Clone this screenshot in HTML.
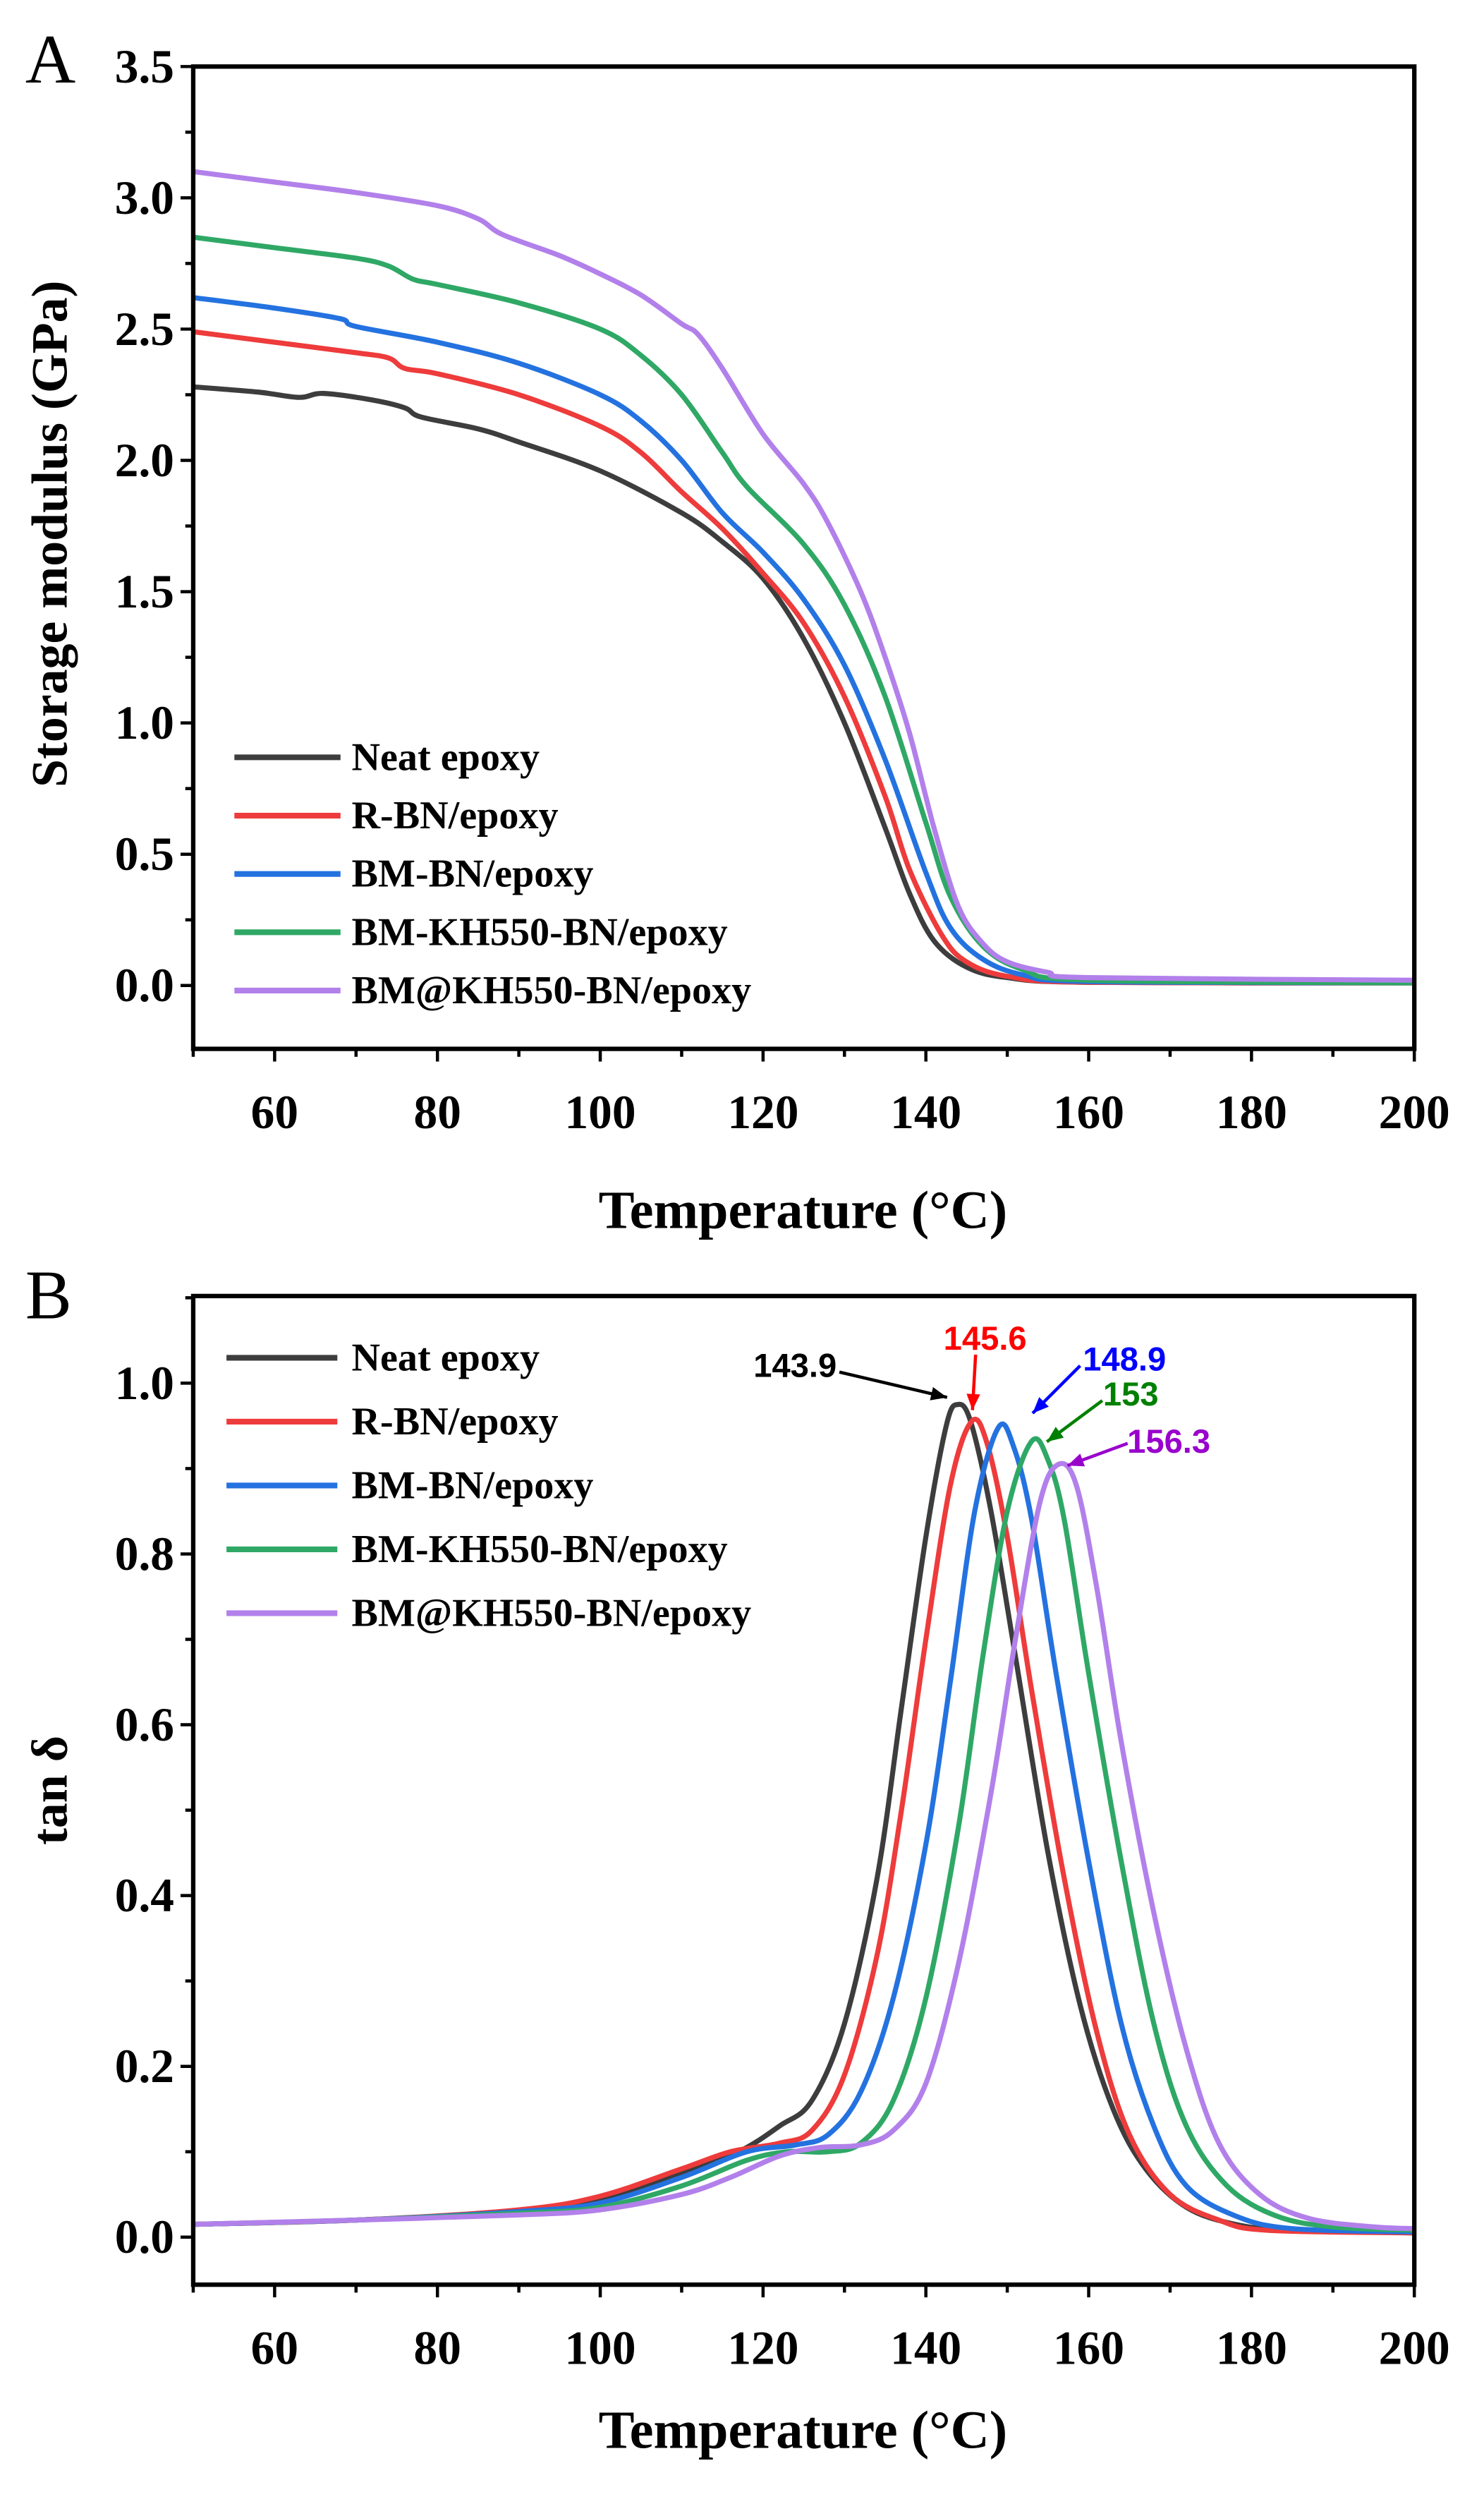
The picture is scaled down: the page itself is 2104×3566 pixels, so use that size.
<!DOCTYPE html>
<html><head><meta charset="utf-8"><style>
html,body{margin:0;padding:0;background:#fff}
svg{display:block}
text{font-family:"Liberation Serif",serif;font-weight:bold;fill:#000}
.ann{font-family:"Liberation Sans",sans-serif;font-weight:bold}
</style></head><body>
<svg id="s" width="2104" height="3566" viewBox="0 0 937 1588" preserveAspectRatio="none" xmlns="http://www.w3.org/2000/svg">
<rect width="937" height="1588" fill="#fff"/>
<g id="g"></g>
<text x="16" y="52" font-size="44" style="font-weight:normal">A</text>
<text x="16" y="832" font-size="44" style="font-weight:normal">B</text>
<text x="507" y="775" font-size="34" text-anchor="middle">Temperature (°C)</text>
<text x="507" y="1545" font-size="34" text-anchor="middle">Temperature (°C)</text>
<text transform="translate(42,337) rotate(-90)" font-size="32" text-anchor="middle">Storage modulus (GPa)</text>
<text transform="translate(42,1130) rotate(-90)" font-size="32" text-anchor="middle">tan δ</text>
</svg>
<script>
var NS="http://www.w3.org/2000/svg",g=document.getElementById("g");
function el(t,a,txt){var e=document.createElementNS(NS,t);for(var k in a)e.setAttribute(k,a[k]);if(txt!=null)e.textContent=txt;g.appendChild(e);return e;}
var L=122,R=893;
function X(T){return L+(T-50)*(R-L)/150;}
var A={top:42,bot:662,y0:622,per:(622-42)/3.5};
var B={top:818,bot:1442,y0:1412,per:(1412-873)/1.0};
function YA(v){return A.y0-v*A.per;} function YB(v){return B.y0-v*B.per;}
function path(pts,Y){var p=pts.map(function(q){return[X(q[0]),Y(q[1])];});
 var d="M"+p[0][0].toFixed(2)+","+p[0][1].toFixed(2);
 for(var i=0;i<p.length-1;i++){var p0=p[i-1]||p[i],p1=p[i],p2=p[i+1],p3=p[i+2]||p2;
  d+=" C"+(p1[0]+(p2[0]-p0[0])/6).toFixed(2)+","+(p1[1]+(p2[1]-p0[1])/6).toFixed(2)+" "+(p2[0]-(p3[0]-p1[0])/6).toFixed(2)+","+(p2[1]-(p3[1]-p1[1])/6).toFixed(2)+" "+p2[0].toFixed(2)+","+p2[1].toFixed(2);}
 return d;}
var C=["#3d3d3d","#ee3b3b","#2472e0","#2fa866","#b280ea"];
var names=["Neat epoxy","R-BN/epoxy","BM-BN/epoxy","BM-KH550-BN/epoxy","BM@KH550-BN/epoxy"];
var dA=[
[[50,2.28],[58,2.26],[63,2.24],[66,2.255],[72,2.23],[76,2.2],[78,2.165],[85,2.12],[90,2.07],[100,1.96],[110,1.8],[115,1.69],[120,1.55],[125,1.32],[130,1.0],[135,0.6],[138,0.35],[141,0.17],[145,0.07],[150,0.03],[160,0.012],[200,0.01]],
[[50,2.49],[60,2.45],[70,2.41],[74,2.39],[76,2.35],[80,2.33],[90,2.25],[100,2.13],[105,2.03],[110,1.88],[115,1.74],[120,1.57],[125,1.38],[130,1.1],[135,0.72],[138,0.44],[142,0.19],[145,0.09],[150,0.035],[160,0.012],[200,0.01]],
[[50,2.62],[60,2.58],[68,2.54],[70,2.51],[80,2.45],[90,2.37],[100,2.25],[105,2.15],[110,2.0],[115,1.8],[120,1.65],[125,1.47],[130,1.22],[135,0.86],[140,0.43],[143,0.22],[147,0.1],[152,0.04],[160,0.015],[200,0.01]],
[[50,2.85],[60,2.81],[70,2.77],[74,2.74],[77,2.69],[80,2.67],[90,2.6],[100,2.5],[105,2.4],[110,2.25],[115,2.03],[118,1.9],[125,1.68],[130,1.45],[135,1.1],[140,0.62],[143,0.34],[147,0.15],[152,0.06],[160,0.02],[200,0.01]],
[[50,3.1],[60,3.06],[70,3.02],[80,2.97],[85,2.92],[88,2.86],[95,2.78],[100,2.71],[105,2.63],[110,2.52],[112,2.48],[115,2.35],[120,2.1],[125,1.91],[128,1.76],[132,1.5],[135,1.25],[138,0.96],[141,0.6],[144,0.3],[147,0.16],[150,0.09],[155,0.05],[160,0.03],[200,0.02]]];
var dB=[
[[50,.015],[70,.02],[90,.03],[100,.045],[110,.075],[117,.1],[122,.13],[126,.16],[130,.25],[134,.42],[137,.62],[140,.82],[142.5,.95],[143.9,.975],[145.5,.955],[148,.85],[151,.68],[155,.45],[159,.27],[163,.15],[167,.08],[172,.035],[178,.015],[185,.008],[200,.005]],
[[50,.015],[70,.02],[90,.032],[100,.048],[110,.08],[116,.1],[122,.11],[126,.125],[130,.19],[134,.33],[137,.5],[140,.7],[143,.88],[145.6,.955],[147.5,.93],[150,.82],[153,.64],[157,.42],[161,.24],[165,.12],[170,.05],[176,.02],[182,.008],[200,.005]],
[[50,.015],[70,.02],[90,.03],[100,.04],[110,.07],[118,.1],[124,.108],[128,.12],[132,.17],[136,.28],[140,.46],[143,.65],[146,.85],[148.9,.948],[150.8,.925],[153,.84],[156,.66],[160,.44],[164,.25],[168,.13],[172,.06],[178,.025],[185,.01],[200,.006]],
[[50,.015],[70,.02],[90,.028],[100,.035],[110,.06],[118,.09],[123,.1],[128,.1],[132,.11],[136,.16],[140,.28],[144,.48],[147,.68],[150,.85],[153,.932],[155,.91],[157,.84],[160,.66],[164,.44],[168,.25],[172,.13],[177,.06],[183,.025],[190,.012],[200,.008]],
[[50,.015],[70,.02],[90,.026],[100,.032],[110,.05],[116,.07],[122,.095],[127,.105],[132,.108],[136,.125],[140,.18],[144,.32],[148,.52],[151,.7],[154,.86],[156.3,.905],[158.5,.88],[161,.76],[164,.58],[168,.38],[172,.22],[176,.11],[181,.05],[187,.022],[195,.012],[200,.01]]];
for(var i=0;i<5;i++){
 el("path",{d:path(dA[i],YA),fill:"none",stroke:C[i],"stroke-width":3.2,"stroke-linejoin":"round"});
 el("path",{d:path(dB[i],YB),fill:"none",stroke:C[i],"stroke-width":3.2,"stroke-linejoin":"round"});
 var ya=478+i*36.8; el("line",{x1:148,x2:215,y1:ya,y2:ya,stroke:C[i],"stroke-width":3.6});
 el("text",{x:222,y:ya+8,"font-size":25},names[i]);
 var yb=857+i*40.3; el("line",{x1:143,x2:213,y1:yb,y2:yb,stroke:C[i],"stroke-width":3.6});
 el("text",{x:222,y:yb+8,"font-size":25},names[i]);
}
function axes(P,Y,vals,minor){
 el("rect",{x:L,y:P.top,width:R-L,height:P.bot-P.top,fill:"none",stroke:"#000","stroke-width":2.8});
 for(var T=50;T<=200;T+=10){var x=X(T);var maj=(T%20==0);
  el("line",{x1:x,x2:x,y1:P.bot,y2:P.bot+(maj?8:5),stroke:"#000","stroke-width":2});
  if(maj)el("text",{x:x,y:P.bot+50,"font-size":30,"text-anchor":"middle"},T);}
 vals.forEach(function(v){var y=Y(v);el("line",{x1:L,x2:L-8,y1:y,y2:y,stroke:"#000","stroke-width":2});
  el("text",{x:L-12,y:y+10,"font-size":30,"text-anchor":"end"},v.toFixed(1));});
 minor.forEach(function(v){var y=Y(v);if(y>P.top&&y<P.bot)el("line",{x1:L,x2:L-5,y1:y,y2:y,stroke:"#000","stroke-width":2});});
}
axes(A,YA,[0,0.5,1,1.5,2,2.5,3,3.5],[-0.25,0.25,0.75,1.25,1.75,2.25,2.75,3.25]);
axes(B,YB,[0,0.2,0.4,0.6,0.8,1.0],[0.1,0.3,0.5,0.7,0.9,1.1]);
function ann(t,tx,ty,col,x1,y1,x2,y2){
 el("text",{x:tx,y:ty,"font-size":21,"text-anchor":"middle","class":"ann",style:"fill:"+col},t);
 el("line",{x1:x1,y1:y1,x2:x2,y2:y2,stroke:col,"stroke-width":2});
 var a=Math.atan2(y2-y1,x2-x1),s=11,w=0.4;
 el("polygon",{points:x2+","+y2+" "+(x2-s*Math.cos(a-w))+","+(y2-s*Math.sin(a-w))+" "+(x2-s*Math.cos(a+w))+","+(y2-s*Math.sin(a+w)),fill:col});
}
ann("143.9",502,869,"#000",530,866,598,882);
ann("145.6",622,852,"#ff0000",616,855,614,890);
ann("148.9",710,865,"#0000ff",682,862,652,892);
ann("153",714,887,"#008000",696,884,661,910);
ann("156.3",738,917,"#9900cc",712,911,674,925);
</script>
</body></html>
